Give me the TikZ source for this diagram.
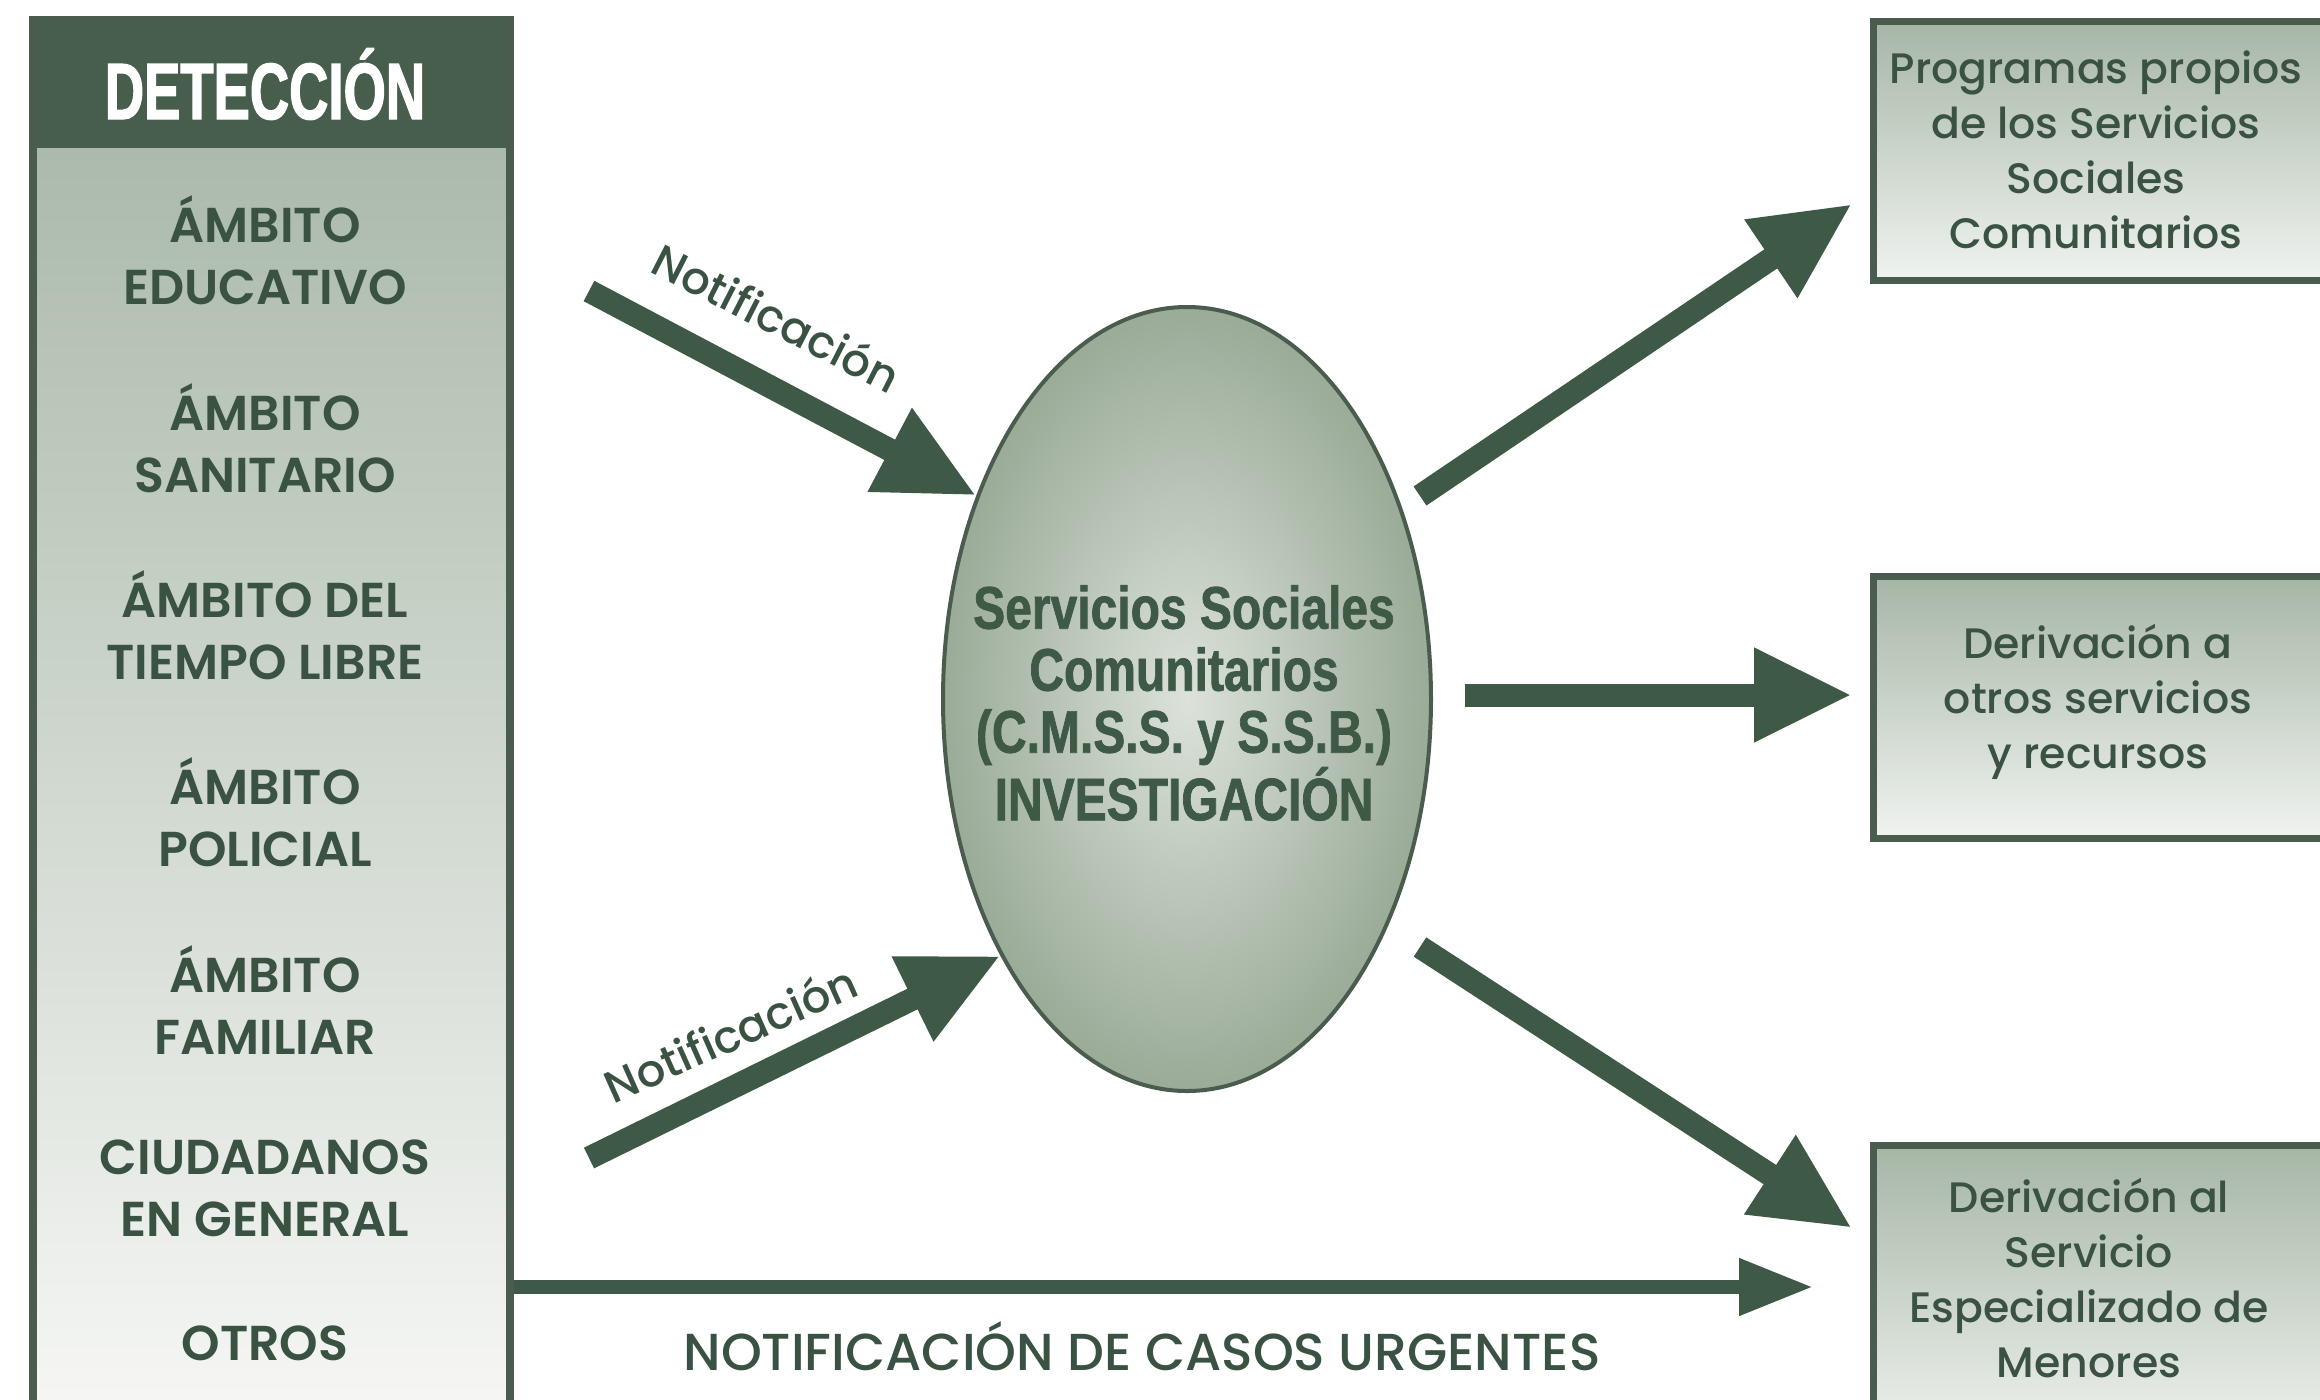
\documentclass[tikz,border=0pt]{standalone}
\usepackage{fontspec}
\usetikzlibrary{shapes.geometric,arrows.meta}
\newfontfamily\futsb{Poppins SemiBold}
\newfontfamily\futmd{Poppins Medium}
\newfontfamily\condf{Liberation Sans Bold}[FakeStretch=0.8,FakeBold=1.2]
\newfontfamily\condh{Liberation Sans Bold}[FakeStretch=0.68,FakeBold=1.5]
\definecolor{dkg}{HTML}{3E5A46}
\definecolor{hdr}{HTML}{465E4B}
\definecolor{brd}{HTML}{4A5C4D}
\definecolor{txt}{HTML}{3A5242}
\definecolor{fillTop}{HTML}{A6B6A5}
\definecolor{fillBot}{HTML}{F0F3F0}
\definecolor{lTop}{HTML}{ABBAAA}
\definecolor{lBot}{HTML}{F6F7F5}
\definecolor{ellIn}{HTML}{DCE2DA}
\definecolor{ellOut}{HTML}{9AAB98}
\begin{document}
\begin{tikzpicture}[x=0.5pt,y=-0.5pt,
  big/.style={draw=dkg, line width=11.5pt, -{Triangle[length=49pt,width=44pt]}},
  thinarrow/.style={draw=dkg, line width=7pt, -{Triangle[length=37pt,width=27pt]}},
  rbox/.style={draw=brd, line width=3.5pt, top color=fillTop, bottom color=fillBot, anchor=north west, minimum width=250pt, inner sep=0pt},
  item/.style={font=\futsb\fontsize{24.5}{31}\selectfont, text=txt, align=center, inner sep=0pt},
  rtext/.style={font=\futmd\fontsize{21.3}{27.5}\selectfont, text=txt, align=center, inner sep=0pt},
  lab/.style={font=\futmd\fontsize{22.5}{22.5}\selectfont, text=txt, inner sep=0pt}]
\useasboundingbox[fill=white] (0,0) rectangle (2320,1399);
% left box
\path[top color=lTop, bottom color=lBot] (29,148) rectangle (506,1420);
\fill[hdr] (29,16) rectangle (506,148);
\node[draw=brd, line width=4pt, anchor=north west, minimum width=238.5pt, minimum height=710pt, inner sep=0pt] (lbox) at (29,16) {};
\node[font=\condh\fontsize{40}{40}\selectfont, text=white, inner sep=0pt] (hd) at (265,84) {DETECCIÓN};
\node[item] (i1) at (265,250) {ÁMBITO\\EDUCATIVO};
\node[item] (i2) at (265,438) {ÁMBITO\\SANITARIO};
\node[item] (i3) at (265,625) {ÁMBITO DEL\\TIEMPO LIBRE};
\node[item] (i4) at (265,812) {ÁMBITO\\POLICIAL};
\node[item] (i5) at (265,1000) {ÁMBITO\\FAMILIAR};
\node[item] (i6) at (265,1188) {CIUDADANOS\\EN GENERAL};
\node[item] (i7) at (265,1343) {OTROS};
% ellipse
\node[ellipse, draw=brd, line width=2pt, minimum width=244pt, minimum height=392pt, inner color=ellIn, outer color=ellOut, inner sep=0pt] (ell) at (1187,699) {};
\node[font=\condf\fontsize{30}{31}\selectfont, text=dkg, align=center, inner sep=0pt] (et) at (1184,703) {Servicios Sociales\\Comunitarios\\(C.M.S.S. y S.S.B.)\\INVESTIGACIÓN};
% right boxes
\node[rbox, minimum height=129.5pt] (b1) at (1870,18) {};
\node[rbox, minimum height=131pt] (b2) at (1870,573) {};
\node[rbox, minimum height=150pt] (b3) at (1870,1142) {};
\node[rtext] (t1) at (2096,150) {Programas propios\\de los Servicios\\Sociales\\Comunitarios};
\node[rtext] (t2) at (2098,702) {Derivación a\\otros servicios\\y recursos};
\node[rtext] (t3) at (2089,1278) {Derivación al\\Servicio\\Especializado de\\Menores};
% arrows
\coordinate (a1s) at (589,291);
\coordinate (a2s) at (589,1158);
\coordinate (a3s) at (1420,496);
\coordinate (a3e) at (1852,204);
\coordinate (a4s) at (1465,695);
\coordinate (a4e) at (1852,695);
\coordinate (a5s) at (1420,947);
\coordinate (a5e) at (1852,1228);
\coordinate (a6e) at (1813,1287);
\draw[big] (a1s) -- (ell.136);
\draw[big] (a2s) -- (ell.234);
\draw[big] (a3s) -- (a3e);
\draw[big] (a4s) -- (a4e);
\draw[big] (a5s) -- (a5e);
\draw[thinarrow] (lbox.east |- a6e) -- (a6e);
% labels
\node[lab, rotate=-27] (l1) at (777,317) {Notificación};
\node[lab, rotate=24] (l2) at (730,1033) {Notificación};
\node[font=\futmd\fontsize{26}{26}\selectfont, text=txt, inner sep=0pt] (l3) at (1142,1346) {NOTIFICACIÓN DE CASOS URGENTES};
\end{tikzpicture}
\end{document}
